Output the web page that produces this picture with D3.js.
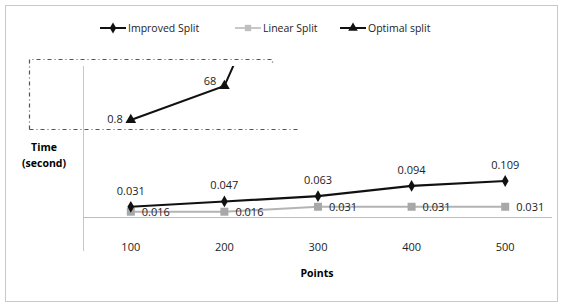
<!DOCTYPE html>
<html>
<head>
<meta charset="utf-8">
<script src="https://cdn.jsdelivr.net/npm/d3@7"></script>
<style>
  body { margin: 0; background: #fff; }
  svg text { font-family: "Open Sans", sans-serif; }
</style>
</head>
<body>
<div id="chart"></div>
<script>
// data
const categories = ["100", "200", "300", "400", "500"];
const improved = [0.031, 0.047, 0.063, 0.094, 0.109];
const linear = [0.016, 0.016, 0.031, 0.031, 0.031];
// optimal split only shows 2 points, the 3rd one runs off the top (estimated)
const optimal = [0.8, 68, 486];
const optimalLabels = ["0.8", "68"];
const legendNames = ["Improved Split", "Linear Split", "Optimal split"];

var width = 563, height = 306;
var svg = d3.select('#chart').append('svg')
    .attr('width', width).attr('height', height);

// outer frame
svg.append('rect')
    .attr('x', 5.5).attr('y', 5.5)
    .attr('width', 552).attr('height', 296)
    .attr('fill', 'none').attr('stroke', '#c8c8c8');

var x = d3.scaleBand().domain(categories).range([84, 552]);
var cx = (d) => x(d) + x.bandwidth() / 2;
// lower part of the broken axis
var y = d3.scaleLinear().domain([0, 0.109]).range([217, 181]);
// upper inset for the optimal split
var y2 = d3.scaleLinear().domain([0.8, 68]).range([120, 86]);

// y axis line + baseline
svg.append('line')
    .attr('x1', 83.5).attr('x2', 83.5).attr('y1', 66).attr('y2', 251)
    .attr('stroke', '#c8c8c8');
var xaxis = svg.append('g')
    .attr('transform', 'translate(0,' + (y(0) + 0.5) + ')')
    .call(d3.axisBottom(x).tickSize(0).tickPadding(26));
xaxis.select('.domain').attr('stroke', '#bdbdbd').attr('d', 'M83,0H552');
xaxis.selectAll('text')
    .attr('font-size', 11).attr('fill', '#222')
    .style('font-family', '"Open Sans", sans-serif');

// axis titles
svg.append('text').attr('x', 317).attr('y', 277)
    .attr('text-anchor', 'middle').attr('font-size', 10.5).attr('font-weight', 'bold')
    .text('Points');
svg.append('text').attr('x', 44).attr('y', 151)
    .attr('text-anchor', 'middle').attr('font-size', 10.5).attr('font-weight', 'bold')
    .text('Time');
svg.append('text').attr('x', 44).attr('y', 167)
    .attr('text-anchor', 'middle').attr('font-size', 10.5).attr('font-weight', 'bold')
    .text('(second)');

// dashed inset box
svg.append('path')
    .attr('d', 'M29.5,129.5V59.5H272.5V64 M29.5,129.5H300')
    .attr('fill', 'none').attr('stroke', '#555')
    .attr('stroke-width', 1.2)
    .attr('stroke-dasharray', '4,3,1,3');

svg.append('defs').append('clipPath').attr('id', 'clip')
    .append('rect').attr('x', 84).attr('y', 66).attr('width', 470).attr('height', 70);

var line = d3.line().x((d, i) => cx(categories[i]));

// linear split (grey)
svg.append('path')
    .datum(linear)
    .attr('d', line.y((d) => y(d)))
    .attr('fill', 'none').attr('stroke', '#b4b4b4').attr('stroke-width', 2);
svg.append('g').selectAll('rect')
    .data(linear).enter().append('rect')
    .attr('x', (d, i) => cx(categories[i]) - 4)
    .attr('y', (d) => y(d) - 4)
    .attr('width', 8).attr('height', 8)
    .attr('fill', '#a8a8a8');

// improved split (black diamonds)
svg.append('path')
    .datum(improved)
    .attr('d', line.y((d) => y(d)))
    .attr('fill', 'none').attr('stroke', '#111').attr('stroke-width', 2.2);
svg.append('g').selectAll('path')
    .data(improved).enter().append('path')
    .attr('d', d3.symbol(d3.symbolDiamond, 40))
    .attr('transform', (d, i) => 'translate(' + cx(categories[i]) + ',' + y(d) + ')')
    .attr('fill', '#111');

// optimal split (black triangles), clipped to the inset
svg.append('path')
    .datum(optimal)
    .attr('clip-path', 'url(#clip)')
    .attr('d', line.y((d) => y2(d)))
    .attr('fill', 'none').attr('stroke', '#111').attr('stroke-width', 2);
svg.append('g').selectAll('path')
    .data(optimal.slice(0, 2)).enter().append('path')
    .attr('d', d3.symbol(d3.symbolTriangle, 50))
    .attr('transform', (d, i) => 'translate(' + cx(categories[i]) + ',' + y2(d) + ')')
    .attr('fill', '#111');

// data labels
svg.append('g').selectAll('text')
    .data(improved).enter().append('text')
    .attr('x', (d, i) => cx(categories[i]))
    .attr('y', (d) => y(d) - 12)
    .attr('text-anchor', 'middle').attr('font-size', 11).attr('fill', '#222')
    .text((d) => d3.format('.3f')(d));
svg.append('g').selectAll('text')
    .data(linear).enter().append('text')
    .attr('x', (d, i) => cx(categories[i]) + 11)
    .attr('y', (d) => y(d) + 4)
    .attr('font-size', 11).attr('fill', '#222')
    .text((d) => d3.format('.3f')(d));
svg.append('g').selectAll('text')
    .data(optimalLabels).enter().append('text')
    .attr('x', (d, i) => cx(categories[i]) - 8)
    .attr('y', (d, i) => y2(optimal[i]) + (i == 0 ? 3 : -1))
    .attr('text-anchor', 'end').attr('font-size', 11).attr('fill', '#222')
    .text((d) => d);

// legend
var legendX = [100, 235, 340];
var lg = svg.append('g').selectAll('g')
    .data(legendNames).enter().append('g')
    .attr('transform', (d, i) => 'translate(' + legendX[i] + ',28)');
lg.append('line').attr('x1', 0).attr('x2', 26)
    .attr('stroke', (d, i) => i == 1 ? '#c8c8c8' : '#111').attr('stroke-width', 2);
lg.append('path')
    .attr('transform', 'translate(13,0)')
    .attr('d', (d, i) => i == 0 ? d3.symbol(d3.symbolDiamond, 36)()
        : i == 1 ? d3.symbol(d3.symbolSquare, 40)() : d3.symbol(d3.symbolTriangle, 40)())
    .attr('fill', (d, i) => i == 1 ? '#c0c0c0' : '#111');
lg.append('text').attr('x', 28).attr('y', 4)
    .attr('font-size', 10.5).attr('fill', '#222')
    .text((d) => d);
</script>
</body>
</html>
